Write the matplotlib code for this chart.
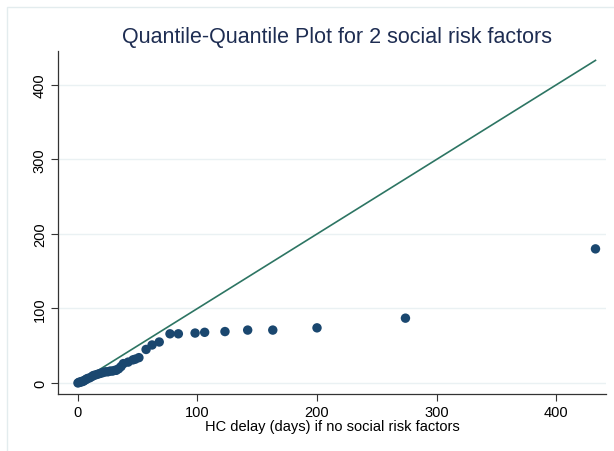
import matplotlib

matplotlib.use("Agg")
import matplotlib.pyplot as plt
from matplotlib.patches import Rectangle

# Q-Q quantiles: HC delay (days) with no social risk factors vs. with 2
q_none = [0, 1, 2, 3, 4, 5, 6, 7, 8, 10, 12, 13, 15, 17, 19, 21, 23, 25, 27, 29,
          31, 32, 34, 36, 38, 42, 46, 48, 51, 57, 62, 68, 77, 84, 98, 106, 123,
          142, 163, 200, 274, 433]
q_two = [0, 1, 1, 2, 2, 3, 4, 5, 6, 7, 9, 10, 11, 12, 13, 14, 15, 15, 16, 16,
         17, 17, 19, 22, 26, 28, 31, 32, 34, 45, 51, 55, 66, 66, 67, 68, 69,
         71, 71, 74, 87, 180]
x_ticks = [0, 100, 200, 300, 400]
y_ticks = [0, 100, 200, 300, 400]

plt.rcParams["font.family"] = ["Liberation Sans", "DejaVu Sans"]

fig = plt.figure(figsize=(6.14, 4.52), dpi=100)
# faint outer frame of the exported graph
fig.patches.append(Rectangle((7 / 614, -0.1), 1.2, 1.1 - 8 / 452,
                             transform=fig.transFigure, fill=False,
                             ec="#e3ecee", lw=1.0))
ax = fig.add_axes([58 / 614, 1 - 395 / 452, 548 / 614, 343 / 452])

lo, hi = min(q_none), max(q_none)
ax.plot([lo, hi], [lo, hi], color="#2d7563", lw=1.2, zorder=2)
ax.scatter(q_none, q_two, s=46, color="#1a476f", edgecolors="none", zorder=3)

ax.set_xlim(-16.7, 441.8)
ax.set_ylim(-14.8, 445.6)
ax.set_xticks(x_ticks)
ax.set_yticks(y_ticks)
ax.tick_params(axis="both", length=5, width=0.8, color="#333333",
               labelsize=10.5, labelcolor="black", pad=3)
for lab in ax.get_yticklabels():
    lab.set_rotation(90)
    lab.set_va("center")
ax.grid(axis="y", color="#eaf1f3", lw=1.0, zorder=0)
ax.set_axisbelow(True)
for s in ("top", "right"):
    ax.spines[s].set_visible(False)
for s in ("left", "bottom"):
    ax.spines[s].set_color("#333333")
    ax.spines[s].set_linewidth(0.9)

ax.set_xlabel("HC delay (days) if no social risk factors", fontsize=10.5,
              labelpad=0)
fig.text(337 / 614, 1 - 38 / 452, "Quantile-Quantile Plot for 2 social risk factors",
         ha="center", va="center", fontsize=15.5, color="#1e2d52")

fig.savefig("out.png", dpi=100)
